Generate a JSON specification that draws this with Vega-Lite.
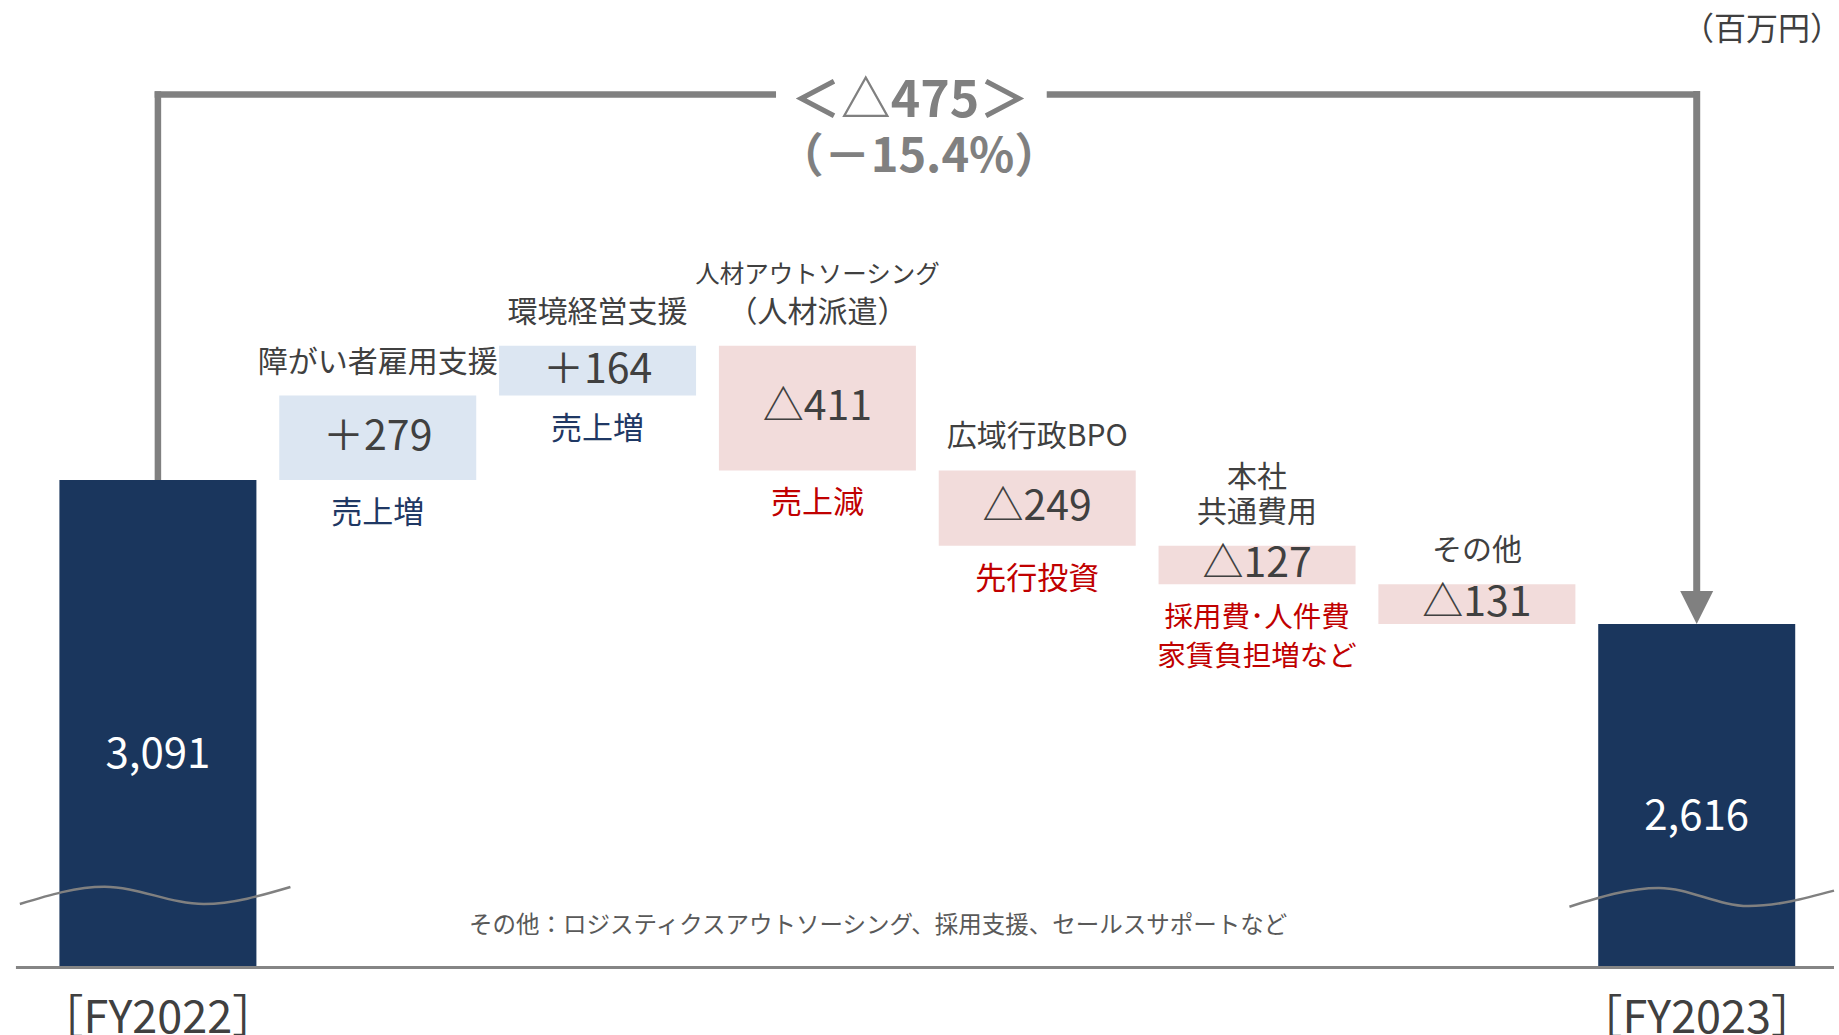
{
  "$schema": "https://vega.github.io/schema/vega-lite/v6.json",
  "width": 1839,
  "height": 966,
  "autosize": {"type": "none"},
  "padding": {"left": 0, "top": 0, "right": 0, "bottom": 69},
  "background": "white",
  "config": {
    "view": {"stroke": null},
    "font": "Noto Sans CJK JP"
  },
  "datasets": {
    "steps": [
      {"i": 0, "kind": "total", "hi": 3091, "text": "3,091", "cat": "［FY2022］", "top": "", "top0": "", "sub": ""},
      {"i": 1, "kind": "up", "lo": 3091, "hi": 3370, "text": "＋279", "top": "障がい者雇用支援", "top0": "", "sub": "売上増"},
      {"i": 2, "kind": "up", "lo": 3370, "hi": 3534, "text": "＋164", "top": "環境経営支援", "top0": "", "sub": "売上増"},
      {"i": 3, "kind": "down", "lo": 3123, "hi": 3534, "text": "△411", "top": "（人材派遣）", "top0": "人材アウトソーシング", "sub": "売上減"},
      {"i": 4, "kind": "down", "lo": 2874, "hi": 3123, "text": "△249", "top": "広域行政BPO", "top0": "", "sub": "先行投資"},
      {"i": 5, "kind": "down", "lo": 2747, "hi": 2874, "text": "△127", "top": "共通費用", "top0": "本社", "sub": "採用費･人件費|家賃負担増など"},
      {"i": 6, "kind": "down", "lo": 2616, "hi": 2747, "text": "△131", "top": "その他", "top0": "", "sub": ""},
      {"i": 7, "kind": "total", "hi": 2616, "text": "2,616", "cat": "［FY2023］", "top": "", "top0": "", "sub": ""}
    ],
    "waves": [
      {"side": "L", "x": -0.628, "y": 1692},
      {"side": "L", "x": -0.2432, "y": 1749},
      {"side": "L", "x": 0.2092, "y": 1692},
      {"side": "L", "x": 0.6028, "y": 1748},
      {"side": "R", "x": 6.421, "y": 1683},
      {"side": "R", "x": 6.8282, "y": 1745},
      {"side": "R", "x": 7.2354, "y": 1685},
      {"side": "R", "x": 7.6245, "y": 1736}
    ]
  },
  "data": {"name": "steps"},
  "layer": [
    {
      "data": {"values": [{}]},
      "mark": {"type": "rule", "color": "#808080", "strokeWidth": 6.5, "strokeCap": "square"},
      "encoding": {
        "x": {"datum": 0, "type": "quantitative", "scale": {"domain": [-0.6956, 7.6245], "nice": false, "zero": false}, "axis": null},
        "y": {"datum": 3091, "type": "quantitative", "scale": {"domain": [1487.3, 4675.4], "nice": false, "zero": false}, "axis": null},
        "y2": {"datum": 4363.5}
      }
    },
    {
      "data": {"values": [{}]},
      "mark": {"type": "rule", "color": "#808080", "strokeWidth": 6.5, "strokeCap": "square"},
      "encoding": {
        "x": {"datum": 0, "type": "quantitative", "scale": {"domain": [-0.6956, 7.6245], "nice": false, "zero": false}, "axis": null},
        "x2": {"datum": 2.797},
        "y": {"datum": 4363.5, "type": "quantitative", "scale": {"domain": [1487.3, 4675.4], "nice": false, "zero": false}, "axis": null}
      }
    },
    {
      "data": {"values": [{}]},
      "mark": {"type": "rule", "color": "#808080", "strokeWidth": 6.5, "strokeCap": "square"},
      "encoding": {
        "x": {"datum": 4.058, "type": "quantitative", "scale": {"domain": [-0.6956, 7.6245], "nice": false, "zero": false}, "axis": null},
        "x2": {"datum": 7},
        "y": {"datum": 4363.5, "type": "quantitative", "scale": {"domain": [1487.3, 4675.4], "nice": false, "zero": false}, "axis": null}
      }
    },
    {
      "data": {"values": [{}]},
      "mark": {"type": "rule", "color": "#808080", "strokeWidth": 7, "strokeCap": "square"},
      "encoding": {
        "x": {"datum": 7, "type": "quantitative", "scale": {"domain": [-0.6956, 7.6245], "nice": false, "zero": false}, "axis": null},
        "y": {"datum": 4363.5, "type": "quantitative", "scale": {"domain": [1487.3, 4675.4], "nice": false, "zero": false}, "axis": null},
        "y2": {"datum": 2690}
      }
    },
    {
      "data": {"values": [{}]},
      "mark": {"type": "point", "shape": "M-1,-1L1,-1L0,1Z", "size": 1089, "filled": true, "color": "#808080", "opacity": 1, "strokeWidth": 0, "yOffset": -16.5},
      "encoding": {
        "x": {"datum": 7, "type": "quantitative", "scale": {"domain": [-0.6956, 7.6245], "nice": false, "zero": false}, "axis": null},
        "y": {"datum": 2616, "type": "quantitative", "scale": {"domain": [1487.3, 4675.4], "nice": false, "zero": false}, "axis": null}
      }
    },
    {
      "transform": [{"filter": "datum.kind == 'total'"}],
      "mark": {"type": "bar", "width": 197, "color": "#1A365D"},
      "encoding": {
        "x": {"field": "i", "type": "quantitative", "scale": {"domain": [-0.6956, 7.6245], "nice": false, "zero": false}, "axis": null},
        "y": {"field": "hi", "type": "quantitative", "scale": {"domain": [1487.3, 4675.4], "nice": false, "zero": false}, "axis": null},
        "y2": {"datum": 1487.3}
      }
    },
    {
      "transform": [{"filter": "datum.kind != 'total'"}],
      "mark": {"type": "bar", "width": 197},
      "encoding": {
        "x": {"field": "i", "type": "quantitative", "scale": {"domain": [-0.6956, 7.6245], "nice": false, "zero": false}, "axis": null},
        "y": {"field": "lo", "type": "quantitative", "scale": {"domain": [1487.3, 4675.4], "nice": false, "zero": false}, "axis": null},
        "y2": {"field": "hi"},
        "color": {"field": "kind", "type": "nominal", "scale": {"domain": ["up", "down"], "range": ["#DCE6F2", "#F2DCDB"]}, "legend": null}
      }
    },
    {
      "data": {"values": [{}]},
      "mark": {"type": "rule", "color": "#858585", "strokeWidth": 3},
      "encoding": {
        "x": {"datum": -0.6458, "type": "quantitative", "scale": {"domain": [-0.6956, 7.6245], "nice": false, "zero": false}, "axis": null},
        "x2": {"datum": 7.6245},
        "y": {"datum": 1482.4, "type": "quantitative", "scale": {"domain": [1487.3, 4675.4], "nice": false, "zero": false}, "axis": null}
      }
    },
    {
      "data": {"name": "waves"},
      "mark": {"type": "line", "interpolate": "monotone", "color": "#808080", "strokeWidth": 2.5},
      "encoding": {
        "x": {"field": "x", "type": "quantitative", "scale": {"domain": [-0.6956, 7.6245], "nice": false, "zero": false}, "axis": null},
        "y": {"field": "y", "type": "quantitative", "scale": {"domain": [1487.3, 4675.4], "nice": false, "zero": false}, "axis": null},
        "detail": {"field": "side", "type": "nominal"}
      }
    },
    {
      "transform": [
        {"filter": "datum.kind != 'total'"},
        {"fold": ["lo", "hi"], "as": ["edge", "v"]},
        {"aggregate": [{"op": "mean", "field": "v", "as": "mid"}], "groupby": ["i", "text"]}
      ],
      "mark": {"type": "text", "fontSize": 41, "color": "#404040", "baseline": "middle", "align": "center"},
      "encoding": {
        "x": {"field": "i", "type": "quantitative", "scale": {"domain": [-0.6956, 7.6245], "nice": false, "zero": false}, "axis": null},
        "y": {"field": "mid", "type": "quantitative", "scale": {"domain": [1487.3, 4675.4], "nice": false, "zero": false}, "axis": null},
        "text": {"field": "text", "type": "nominal"}
      }
    },
    {
      "transform": [{"filter": "datum.kind == 'total'"}],
      "mark": {"type": "text", "fontSize": 42, "color": "#FFFFFF", "baseline": "middle", "align": "center", "dy": {"expr": "(height - scale('y', datum.hi)) * 0.565"}},
      "encoding": {
        "x": {"field": "i", "type": "quantitative", "scale": {"domain": [-0.6956, 7.6245], "nice": false, "zero": false}, "axis": null},
        "y": {"field": "hi", "type": "quantitative", "scale": {"domain": [1487.3, 4675.4], "nice": false, "zero": false}, "axis": null},
        "text": {"field": "text", "type": "nominal"}
      }
    },
    {
      "transform": [{"filter": "datum.kind == 'total'"}],
      "mark": {"type": "text", "fontSize": 45, "color": "#404040", "baseline": "alphabetic", "align": "center"},
      "encoding": {
        "x": {"field": "i", "type": "quantitative", "scale": {"domain": [-0.6956, 7.6245], "nice": false, "zero": false}, "axis": null},
        "y": {"datum": 1266, "type": "quantitative", "scale": {"domain": [1487.3, 4675.4], "nice": false, "zero": false}, "axis": null},
        "text": {"field": "cat", "type": "nominal"}
      }
    },
    {
      "transform": [{"filter": "datum.top != ''"}],
      "mark": {"type": "text", "fontSize": 30, "color": "#404040", "baseline": "bottom", "align": "center", "dy": -18},
      "encoding": {
        "x": {"field": "i", "type": "quantitative", "scale": {"domain": [-0.6956, 7.6245], "nice": false, "zero": false}, "axis": null},
        "y": {"field": "hi", "type": "quantitative", "scale": {"domain": [1487.3, 4675.4], "nice": false, "zero": false}, "axis": null},
        "text": {"field": "top", "type": "nominal"}
      }
    },
    {
      "transform": [{"filter": "datum.top0 != '' && datum.i == 3"}],
      "mark": {"type": "text", "fontSize": 24.5, "color": "#404040", "baseline": "bottom", "align": "center", "dy": -58},
      "encoding": {
        "x": {"field": "i", "type": "quantitative", "scale": {"domain": [-0.6956, 7.6245], "nice": false, "zero": false}, "axis": null},
        "y": {"field": "hi", "type": "quantitative", "scale": {"domain": [1487.3, 4675.4], "nice": false, "zero": false}, "axis": null},
        "text": {"field": "top0", "type": "nominal"}
      }
    },
    {
      "transform": [{"filter": "datum.top0 != '' && datum.i != 3"}],
      "mark": {"type": "text", "fontSize": 30, "color": "#404040", "baseline": "bottom", "align": "center", "dy": -53},
      "encoding": {
        "x": {"field": "i", "type": "quantitative", "scale": {"domain": [-0.6956, 7.6245], "nice": false, "zero": false}, "axis": null},
        "y": {"field": "hi", "type": "quantitative", "scale": {"domain": [1487.3, 4675.4], "nice": false, "zero": false}, "axis": null},
        "text": {"field": "top0", "type": "nominal"}
      }
    },
    {
      "transform": [{"filter": "datum.sub != '' && datum.kind == 'up'"}],
      "mark": {"type": "text", "fontSize": 31, "color": "#1F3864", "baseline": "top", "align": "center", "dy": 19},
      "encoding": {
        "x": {"field": "i", "type": "quantitative", "scale": {"domain": [-0.6956, 7.6245], "nice": false, "zero": false}, "axis": null},
        "y": {"field": "lo", "type": "quantitative", "scale": {"domain": [1487.3, 4675.4], "nice": false, "zero": false}, "axis": null},
        "text": {"field": "sub", "type": "nominal"}
      }
    },
    {
      "transform": [{"filter": "datum.sub != '' && datum.kind == 'down' && indexof(datum.sub, '|') < 0"}],
      "mark": {"type": "text", "fontSize": 31, "color": "#C00000", "baseline": "top", "align": "center", "dy": 19},
      "encoding": {
        "x": {"field": "i", "type": "quantitative", "scale": {"domain": [-0.6956, 7.6245], "nice": false, "zero": false}, "axis": null},
        "y": {"field": "lo", "type": "quantitative", "scale": {"domain": [1487.3, 4675.4], "nice": false, "zero": false}, "axis": null},
        "text": {"field": "sub", "type": "nominal"}
      }
    },
    {
      "transform": [{"filter": "datum.sub != '' && datum.kind == 'down' && indexof(datum.sub, '|') >= 0"}],
      "mark": {"type": "text", "fontSize": 28.5, "color": "#C00000", "baseline": "top", "align": "center", "dy": 20, "lineBreak": "|", "lineHeight": 39},
      "encoding": {
        "x": {"field": "i", "type": "quantitative", "scale": {"domain": [-0.6956, 7.6245], "nice": false, "zero": false}, "axis": null},
        "y": {"field": "lo", "type": "quantitative", "scale": {"domain": [1487.3, 4675.4], "nice": false, "zero": false}, "axis": null},
        "text": {"field": "sub", "type": "nominal"}
      }
    },
    {
      "data": {"values": [{}]},
      "mark": {"type": "text", "fontSize": 50, "fontWeight": "bold", "color": "#808080", "baseline": "middle", "align": "center", "text": "＜△475＞"},
      "encoding": {
        "x": {"datum": 3.4215, "type": "quantitative", "scale": {"domain": [-0.6956, 7.6245], "nice": false, "zero": false}, "axis": null},
        "y": {"datum": 4339, "type": "quantitative", "scale": {"domain": [1487.3, 4675.4], "nice": false, "zero": false}, "axis": null}
      }
    },
    {
      "data": {"values": [{}]},
      "mark": {"type": "text", "fontSize": 47, "fontWeight": "bold", "color": "#808080", "baseline": "middle", "align": "center", "text": "（－15.4%）"},
      "encoding": {
        "x": {"datum": 3.4622, "type": "quantitative", "scale": {"domain": [-0.6956, 7.6245], "nice": false, "zero": false}, "axis": null},
        "y": {"datum": 4154, "type": "quantitative", "scale": {"domain": [1487.3, 4675.4], "nice": false, "zero": false}, "axis": null}
      }
    },
    {
      "data": {"values": [{}]},
      "mark": {"type": "text", "fontSize": 23.5, "color": "#595959", "baseline": "middle", "align": "center", "text": "その他：ロジスティクスアウトソーシング、採用支援、セールスサポートなど"},
      "encoding": {
        "x": {"datum": 3.2767, "type": "quantitative", "scale": {"domain": [-0.6956, 7.6245], "nice": false, "zero": false}, "axis": null},
        "y": {"datum": 1619.3, "type": "quantitative", "scale": {"domain": [1487.3, 4675.4], "nice": false, "zero": false}, "axis": null}
      }
    },
    {
      "data": {"values": [{}]},
      "mark": {"type": "text", "fontSize": 32, "color": "#404040", "baseline": "middle", "align": "center", "text": "（百万円）"},
      "encoding": {
        "x": {"datum": 7.2965, "type": "quantitative", "scale": {"domain": [-0.6956, 7.6245], "nice": false, "zero": false}, "axis": null},
        "y": {"datum": 4578, "type": "quantitative", "scale": {"domain": [1487.3, 4675.4], "nice": false, "zero": false}, "axis": null}
      }
    }
  ]
}
